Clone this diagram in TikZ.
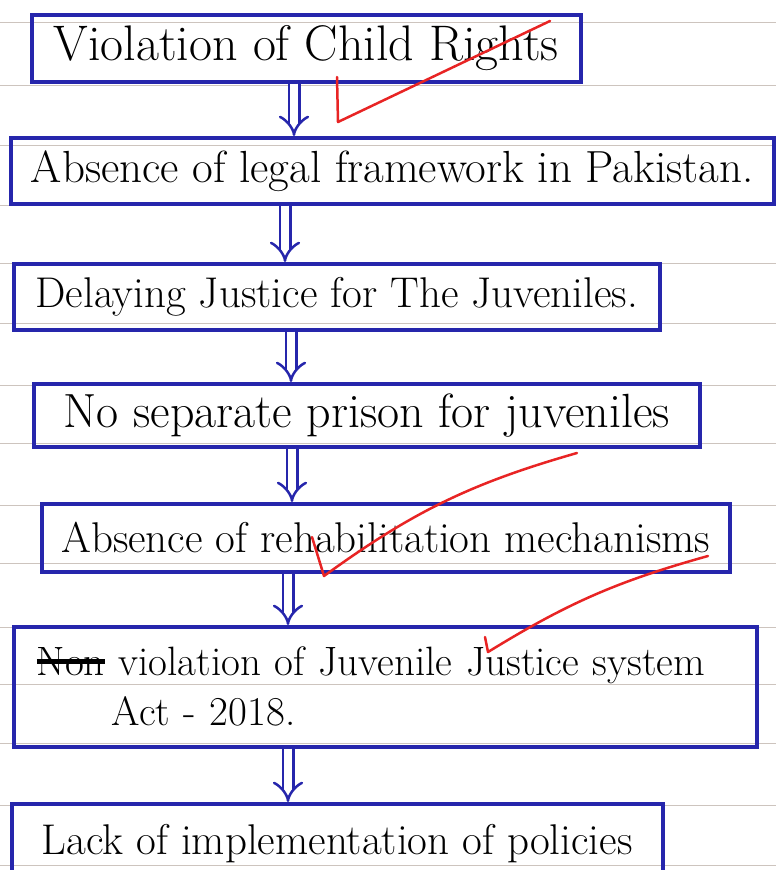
\documentclass[tikz,border=0pt]{standalone}
\usetikzlibrary{arrows.meta}

\definecolor{ink}{RGB}{38,38,172}
\definecolor{ruling}{RGB}{205,196,190}
\definecolor{tick}{RGB}{232,36,36}

\newcommand\crossout[1]{\setbox0\hbox{#1}\rlap{\raisebox{0.28em}{\rule{\wd0}{0.12em}}}\box0}

\begin{document}
\begin{tikzpicture}[x=1pt, y=-1pt,
    box/.style={draw=ink, line width=3.5pt, anchor=north west, inner sep=0pt,
        font=\fontsize{#1}{50}\selectfont},
    box/.default=44,
    flow/.style={draw=ink, line width=2.5pt, double=white, double distance=8pt,
        -{Implies[length=16pt, width=40pt]}},
    tickmark/.style={draw=tick, line width=2.5pt, line join=round, line cap=round}]

        \useasboundingbox (0,0) rectangle (776,870);

        % ruled paper
        \foreach \y in {22,85,145,205,263,323,385,443,505,563,627,684,743,805,865}
            \draw[ruling, line width=1pt] (0,\y) -- (776,\y);

        \node[box=50, minimum width=549, minimum height=67] (CHILD) at (30,13) {Violation of Child Rights};
        \node[box=45, minimum width=763, minimum height=66] (LEGAL) at (9,136) {Absence of legal framework in Pakistan.};
        \node[box=43, minimum width=646, minimum height=66] (DELAY) at (12,262) {Delaying Justice for The Juveniles.};
        \node[box=48, minimum width=666, minimum height=63] (PRISON) at (32,382) {No separate prison for juveniles};
        \node[box=43, minimum width=688, minimum height=68] (REHAB) at (40,502) {Absence of rehabilitation mechanisms};
        \node[box=41, text width=697, inner xsep=23pt, minimum height=120, align=left] (ACT) at (12,625)
            {\mbox{\crossout{Non}\ violation of Juvenile Justice system}\\\hspace*{75pt}Act - 2018.};
        \node[box=43, minimum width=651, minimum height=80] (POLICY) at (10,802) {Lack of implementation of policies};

        % arrow axes
        \coordinate (A1) at (294,0);
        \coordinate (A2) at (285,0);
        \coordinate (A3) at (291,0);
        \coordinate (A4) at (292,0);
        \coordinate (A5) at (288,0);
        \coordinate (A6) at (288,0);

        \draw[flow] (CHILD.south -| A1) -- (LEGAL.north -| A1);
        \draw[flow] (LEGAL.south -| A2) -- (DELAY.north -| A2);
        \draw[flow] (DELAY.south -| A3) -- (PRISON.north -| A3);
        \draw[flow] (PRISON.south -| A4) -- (REHAB.north -| A4);
        \draw[flow] (REHAB.south -| A5) -- (ACT.north -| A5);
        \draw[flow] (ACT.south -| A6) -- (POLICY.north -| A6);

        % red ticks
        \draw[tickmark] (337,77) -- (338,122) -- (550,21);
        \draw[tickmark] (312,537) -- (324,576) to[bend left=10] (577,453);
        \draw[tickmark] (485,637) -- (488,652) to[bend left=8] (708,556);
\end{tikzpicture}
\end{document}
